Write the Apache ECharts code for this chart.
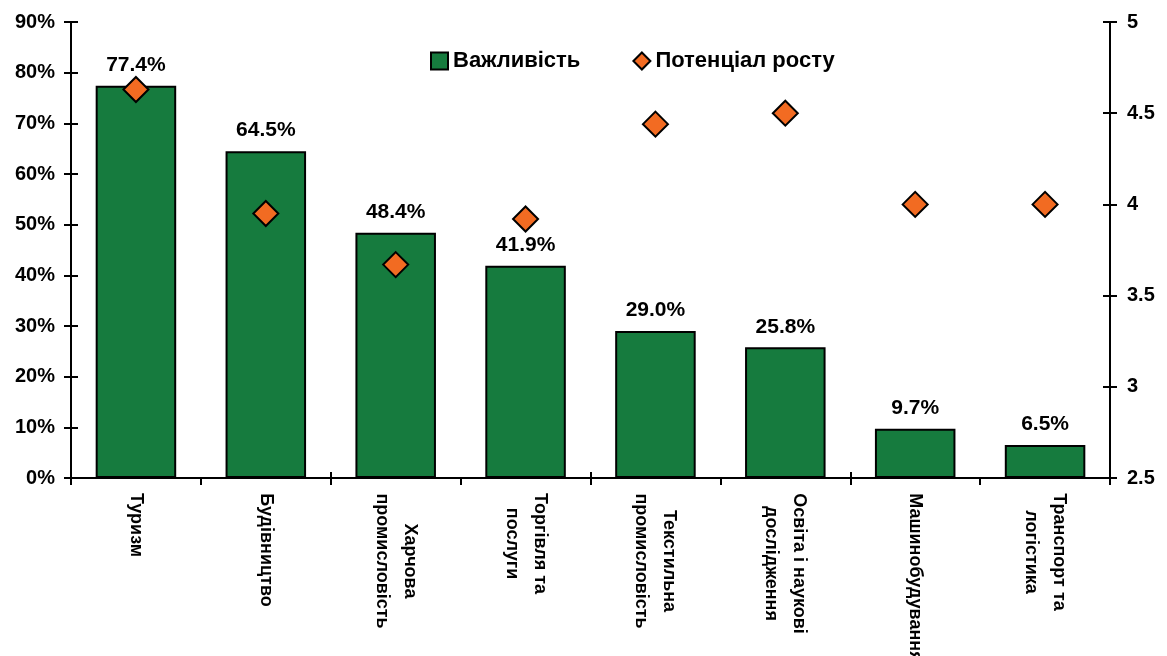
<!DOCTYPE html>
<html>
<head>
<meta charset="utf-8">
<script src="https://cdn.jsdelivr.net/npm/echarts@6/dist/echarts.min.js"></script>
<style>
html,body{margin:0;padding:0;background:#fff;}
#chart{width:1167px;height:656px;}
</style>
</head>
<body>
<div id="chart"></div>
<script>
const categories = ['Туризм', 'Будівництво', 'Харчова\nпромисловість', 'Торгівля та\nпослуги', 'Текстильна\nпромисловість', 'Освіта і наукові\nдослідження', 'Машинобудування', 'Транспорт та\nлогістика'];
const importance = [77.4, 64.5, 48.4, 41.9, 29.0, 25.8, 9.7, 6.5];
const potential = [4.63, 3.95, 3.67, 3.92, 4.44, 4.5, 4.0, 4.0];
const seriesNames = ['Важливість', 'Потенціал росту'];

const FONT = '"Liberation Sans", Arial, sans-serif';
const CAT_FONT_SIZE = 18;

// measure label widths so that multi-line labels can be centred line by line
const cv = document.createElement('canvas').getContext('2d');
cv.font = 'bold ' + CAT_FONT_SIZE + 'px ' + FONT;
const rich = {};
categories.forEach((c, i) => {
  const w = Math.max(...c.split('\n').map(l => cv.measureText(l).width));
  rich['c' + i] = {width: Math.ceil(w), align: 'center', fontSize: CAT_FONT_SIZE, fontWeight: 'bold', fontFamily: FONT, color: '#000', lineHeight: 28};
});

const chart = echarts.init(document.getElementById('chart'));
const axisLineStyle = {color: '#000', width: 2};
chart.setOption({
  backgroundColor: '#fff',
  animation: false,
  legend: {
    left: 425, top: 45,
    itemWidth: 17, itemHeight: 17, itemGap: 52,
    textStyle: {fontSize: 22, fontWeight: 'bold', fontFamily: FONT, color: '#000'},
    data: [{name: seriesNames[0], icon: 'rect'}, {name: seriesNames[1], icon: 'diamond'}]
  },
  grid: {left: 71, right: 57, top: 22, bottom: 178, containLabel: false, outerBoundsMode: 'none'},
  xAxis: [{
    type: 'category', data: categories, position: 'bottom',
    axisLine: {lineStyle: axisLineStyle},
    axisTick: {show: true, inside: false, length: 7, lineStyle: axisLineStyle},
    axisLabel: {
      rotate: -90, margin: 15, interval: 0,
      formatter: (v, i) => v.split('\n').map(l => '{c' + i + '|' + l + '}').join('\n'),
      rich: rich
    }
  }, {
    type: 'category', data: categories, position: 'bottom',
    axisLine: {show: false},
    axisTick: {show: true, inside: true, length: 6, lineStyle: axisLineStyle},
    axisLabel: {show: false}
  }],
  yAxis: [{
    type: 'value', position: 'left', min: 0, max: 90, interval: 10,
    splitLine: {show: false},
    axisLine: {show: true, lineStyle: axisLineStyle},
    axisTick: {show: true, inside: false, length: 7, lineStyle: axisLineStyle},
    axisLabel: {formatter: '{value}%', margin: 16, fontSize: 20, fontWeight: 'bold', fontFamily: FONT, color: '#000'}
  }, {
    type: 'value', position: 'right', min: 2.5, max: 5, interval: 0.5,
    splitLine: {show: false},
    axisLine: {show: true, lineStyle: axisLineStyle},
    axisTick: {show: true, inside: false, length: 7, lineStyle: axisLineStyle},
    axisLabel: {margin: 17, fontSize: 20, fontWeight: 'bold', fontFamily: FONT, color: '#000'}
  }, {
    type: 'value', position: 'left', min: 0, max: 90, interval: 10,
    splitLine: {show: false}, axisLine: {show: false},
    axisTick: {show: true, inside: true, length: 7, lineStyle: axisLineStyle},
    axisLabel: {show: false}
  }, {
    type: 'value', position: 'right', min: 2.5, max: 5, interval: 0.5,
    splitLine: {show: false}, axisLine: {show: false},
    axisTick: {show: true, inside: true, length: 7, lineStyle: axisLineStyle},
    axisLabel: {show: false}
  }],
  series: [{
    name: seriesNames[0], type: 'bar', xAxisIndex: 0, yAxisIndex: 0,
    data: importance, barWidth: '62%',
    itemStyle: {color: '#167B3E', borderColor: '#000', borderWidth: 2},
    label: {
      show: true, position: 'top', distance: 10,
      formatter: p => p.value.toFixed(1) + '%',
      fontSize: 21, fontWeight: 'bold', fontFamily: FONT, color: '#000'
    }
  }, {
    name: seriesNames[1], type: 'scatter', xAxisIndex: 0, yAxisIndex: 1,
    data: potential, symbol: 'diamond', symbolSize: 25, z: 5,
    itemStyle: {color: '#F26B22', borderColor: '#000', borderWidth: 2, opacity: 1}
  }]
});
</script>
</body>
</html>
